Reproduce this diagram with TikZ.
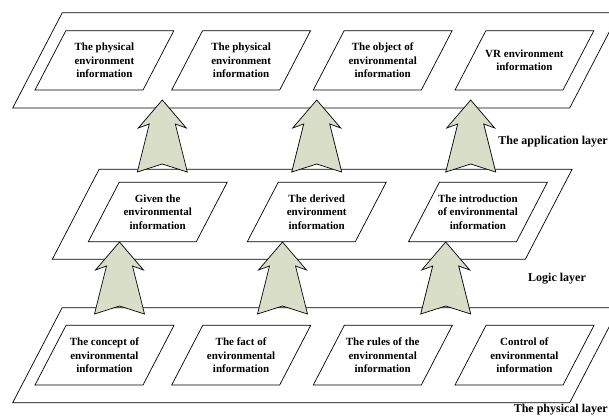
\documentclass[tikz,border=0pt]{standalone}
\usepackage{fontspec}
\setmainfont{Liberation Serif}
\usepackage{xcolor}
\usetikzlibrary{positioning}

\definecolor{arrowgray}{RGB}{216,222,200}

% slanted box: bottom-left x, bottom y, width, height
\newcommand{\slantbox}[4]{%
  \draw[frame] (#1,#2) -- ++(#3,0) -- ++({0.52*#4},-#4) -- ++(-#3,0) -- cycle;}

\begin{document}
\begin{tikzpicture}[
    x=1pt, y=-1pt,
    every node/.style={font=\bfseries\fontsize{11}{13.5}\selectfont, inner sep=0pt},
    info/.style={align=center},
    layername/.style={font=\bfseries\fontsize{12}{14}\selectfont},
    frame/.style={draw, line width=0.7pt},
    uparrow/.pic={\draw[frame, fill=arrowgray] (0,0) -- (-24,28) -- (-13,24) -- (-25,72)
        -- (0,64) -- (25,72) -- (13,24) -- (24,28) -- cycle;}
]
    \useasboundingbox (0,0) rectangle (609,416);

    % Layers
    \slantbox{12.7}{108}{557}{95.3}
    \slantbox{52.3}{259.3}{473}{90}
    \slantbox{12.7}{402.7}{557}{95}

    % Boxes
    \foreach \x in {35,171.7,313.3,455} {\slantbox{\x}{90}{108}{59.3}}
    \foreach \x in {88.3,247.3,408.5} {\slantbox{\x}{241.7}{108}{59.4}}
    \foreach \x in {35,171.7,313.3,455} {\slantbox{\x}{385}{108}{59.7}}

    % Application layer
    \node[info] (app_phys1) at (104.4,60.3) {The physical\\environment\\information};
    \node[info] (app_phys2) at (241.1,60.3) {The physical\\environment\\information};
    \node[info] (app_object) at (382.7,60.3) {The object of\\environmental\\information};
    \node[info] (app_vr) at (524.4,60.3) {VR environment\\information};

    % Logic layer
    \node[info] (log_given) at (157.7,212) {Given the\\environmental\\information};
    \node[info] (log_derived) at (316.7,212) {The derived\\environment\\information};
    \node[info] (log_intro) at (477.9,212) {The introduction\\of environmental\\information};

    % Physical layer
    \node[info] (phy_concept) at (104.4,355.2) {The concept of\\environmental\\information};
    \node[info] (phy_fact) at (241.1,355.2) {The fact of\\environmental\\information};
    \node[info] (phy_rules) at (382.7,355.2) {The rules of the\\environmental\\information};
    \node[info] (phy_control) at (524.4,355.2) {Control of\\environmental\\information};

    % Arrows
    \foreach \x in {162.3,316.7,470.7} {\pic at (\x,100) {uparrow};}
    \foreach \x in {119.5,282.5,445.7} {\pic at (\x,242) {uparrow};}

    % Layer names
    \node[layername, anchor=east] (app_name) at (608,142) {The application layer};
    \node[layername] (log_name) at (557,279) {Logic layer};
    \node[layername, anchor=east] (phy_name) at (608,410) {The physical layer};
\end{tikzpicture}
\end{document}
